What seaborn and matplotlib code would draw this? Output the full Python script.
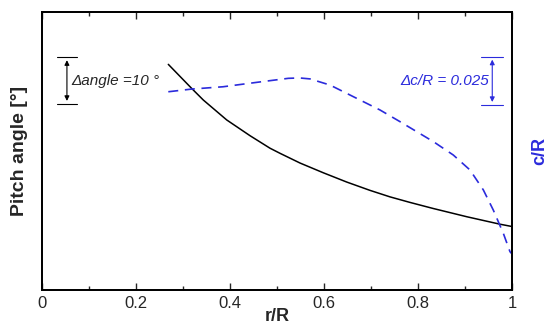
#!/usr/bin/env python3

import pandas as pd
import seaborn as sns
import matplotlib.pyplot as plt

# Data
r_pitch = [0.2687, 0.3185, 0.3432, 0.393, 0.4426, 0.4851, 0.5064, 0.549, 0.5985,
           0.6483, 0.6979, 0.7404, 0.783, 0.832, 0.9043, 0.9745, 1.0]
pitch = [48.7, 43.5, 41.0, 36.7, 33.3, 30.6, 29.5, 27.4, 25.3,
         23.3, 21.5, 20.1, 18.9, 17.6, 15.8, 14.2, 13.7]

r_chord = [0.2687, 0.3185, 0.3851, 0.4568, 0.524, 0.548, 0.5702, 0.6128, 0.6553, 0.7191,
           0.7617, 0.8326, 0.8751, 0.9106, 0.939, 0.9602, 0.9815, 0.9957, 1.0]
chord = [0.1034, 0.1048, 0.1060, 0.1083, 0.1104, 0.1106, 0.1101, 0.1069, 0.1017, 0.0939,
         0.0878, 0.0774, 0.0704, 0.0626, 0.0522, 0.0417, 0.0296, 0.0200, 0.0188]

xticks = [0, 0.2, 0.4, 0.6, 0.8, 1]
xticklabels = ['0', '0.2', '0.4', '0.6', '0.8', '1']

blue = '#2b2bdc'

sns.set_style('white')
plt.rcParams['font.family'] = ['Liberation Sans', 'DejaVu Sans']

fig = plt.figure(figsize=(5.5, 3.25), dpi=100)
ax = fig.add_axes([0.0764, 0.1077, 0.8545, 0.8554])
ax2 = ax.twinx()

pitch_df = pd.DataFrame({'r': r_pitch, 'pitch': pitch})
chord_df = pd.DataFrame({'r': r_chord, 'c': chord})

sns.lineplot(data=pitch_df, x='r', y='pitch', ax=ax, color='black', lw=1.1, sort=False)
sns.lineplot(data=chord_df, x='r', y='c', ax=ax2, color=blue, lw=1.2, sort=False,
             linestyle=(0, (6, 4)))

ax.set_xlim(0, 1)
ax.set_ylim(0, 60)
ax2.set_ylim(0, 0.145)

ax.set_xticks(xticks)
ax.set_xticklabels(xticklabels, fontsize=12)
ax.set_xticks([0.1, 0.3, 0.5, 0.7, 0.9], minor=True)
ax.tick_params(axis='x', which='both', direction='in', top=True, bottom=True, pad=4)
ax.tick_params(axis='x', which='major', length=5, width=1)
ax.tick_params(axis='x', which='minor', length=3, width=1)
ax.set_yticks([])
ax2.set_yticks([])

for a in (ax, ax2):
    for s in a.spines.values():
        s.set_color('black')
        s.set_linewidth(1.3)

ax.set_xlabel('r/R', fontsize=13, fontweight='bold', labelpad=-2)
ax.set_ylabel('Pitch angle [°]', fontsize=14, fontweight='bold', labelpad=10)
ax2.set_ylabel('c/R', fontsize=13, fontweight='bold', color=blue, labelpad=14, rotation=90)

# Scale bracket for pitch angle (10 degrees)
ax.annotate('', xy=(0.053, 50.2), xytext=(0.053, 40.2),
            arrowprops=dict(arrowstyle='<|-|>', color='black', lw=0.8, mutation_scale=7))
ax.plot([0.032, 0.075], [50.2, 50.2], color='black', lw=0.8)
ax.plot([0.032, 0.075], [40.2, 40.2], color='black', lw=0.8)
ax.text(0.062, 45.2, 'Δangle =10 °', fontsize=11, style='italic', va='center', ha='left')

# Scale bracket for chord (0.025)
ax2.annotate('', xy=(0.958, 0.1216), xytext=(0.958, 0.0966),
             arrowprops=dict(arrowstyle='<|-|>', color=blue, lw=0.8, mutation_scale=7))
ax2.plot([0.935, 0.98], [0.1216, 0.1216], color=blue, lw=0.8)
ax2.plot([0.935, 0.98], [0.0966, 0.0966], color=blue, lw=0.8)
ax2.text(0.952, 0.1091, 'Δc/R = 0.025', fontsize=11, style='italic', color=blue,
         va='center', ha='right')

plt.savefig('out.png', dpi=100)
